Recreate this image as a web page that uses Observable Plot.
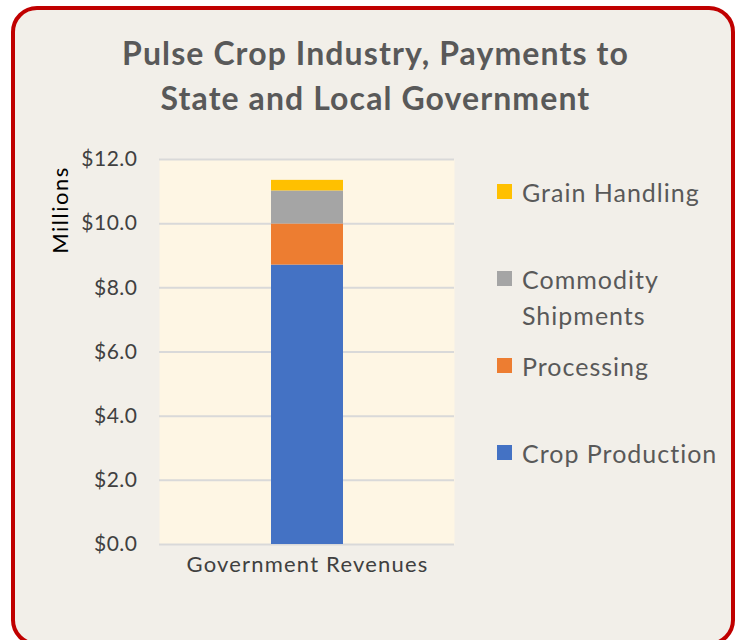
<!DOCTYPE html>
<html>
<head>
<meta charset="utf-8">
<script src="https://cdn.jsdelivr.net/npm/d3@7"></script>
<script src="https://cdn.jsdelivr.net/npm/@observablehq/plot@0.6"></script>
<style>
  html, body { margin: 0; padding: 0; background: #ffffff; }
  #wrap { position: relative; width: 735px; height: 640px; overflow: hidden; font-family: Lato, "Open Sans", sans-serif; }
  #box { position: absolute; left: 11px; top: 6px; width: 716px; height: 632px; border: 4px solid #c00000; border-radius: 26px; background: #f2efe9; }
  #title { position: absolute; left: 8px; width: 735px; top: 30px; text-align: center; font-weight: bold; font-size: 32px; letter-spacing: 1.1px; line-height: 45px; color: #595959; }
  #ylabel { position: absolute; left: 59px; top: 210px; transform: translate(-50%, -50%) rotate(-90deg); font-size: 22px; letter-spacing: 1.5px; color: #000; white-space: nowrap; }
  #plot { position: absolute; left: 0; top: 140px; }
  #plot svg g[aria-label="y-axis tick label"] text { letter-spacing: 0.5px; }
  #plot svg g[aria-label="x-axis tick label"] { font-size: 22px; letter-spacing: 1.2px; }
  .leg { position: absolute; left: 497px; font-size: 25px; letter-spacing: 1px; color: #595959; line-height: 36px; }
  .leg .sw { position: absolute; left: 0; width: 15px; height: 15px; }
  .leg .tx { position: absolute; left: 25px; white-space: nowrap; }
</style>
</head>
<body>
<div id="wrap">
  <div id="box"></div>
  <div id="title">Pulse Crop Industry, Payments to<br>State and Local Government</div>
  <div id="ylabel">Millions</div>
  <div id="plot"></div>
  <div id="legend"></div>
</div>
<script>
const categories = ["Government Revenues"];
const series = ["Crop Production", "Processing", "Commodity Shipments", "Grain Handling"];
const values = [8.71, 1.28, 1.03, 0.33];
const colors = ["#4472c4", "#ed7d31", "#a5a5a5", "#ffc000"];
const yTicks = [0, 2, 4, 6, 8, 10, 12];

const data = series.map((s, i) => ({category: categories[0], series: s, value: values[i]}));

const chart = Plot.plot({
  width: 480,
  height: 460,
  marginLeft: 159,
  marginRight: 26,
  marginTop: 19,
  marginBottom: 56,
  style: {background: "transparent", fontFamily: "Lato, 'Open Sans', sans-serif", fontSize: "21px", color: "#404040"},
  x: {domain: categories, padding: 0.608, label: null, tickSize: 0, tickPadding: 12},
  y: {domain: [0, 12], ticks: yTicks, tickFormat: d => "$" + d.toFixed(1), label: null, tickSize: 0, tickPadding: 22},
  color: {domain: series, range: colors},
  marks: [
    Plot.frame({fill: "#fef6e4", stroke: null}),
    Plot.ruleY(yTicks, {stroke: "#d9d9d9", strokeWidth: 2}),
    Plot.barY(data, {x: "category", y: "value", fill: "series"})
  ]
});
document.getElementById("plot").appendChild(chart);

// legend (top to bottom: reverse of stack order)
const legendY = {"Grain Handling": 192, "Commodity Shipments": 279, "Processing": 366, "Crop Production": 453};
const legend = document.getElementById("legend");
series.slice().reverse().forEach(s => {
  const i = series.indexOf(s);
  const d = document.createElement("div");
  d.className = "leg";
  d.style.top = (legendY[s] - 18) + "px";
  const sw = document.createElement("div");
  sw.className = "sw";
  sw.style.top = "10px";
  sw.style.background = colors[i];
  const tx = document.createElement("div");
  tx.className = "tx";
  tx.style.top = "0px";
  tx.innerHTML = s === "Commodity Shipments" ? "Commodity<br>Shipments" : s;
  d.appendChild(sw); d.appendChild(tx);
  legend.appendChild(d);
});
</script>
</body>
</html>
